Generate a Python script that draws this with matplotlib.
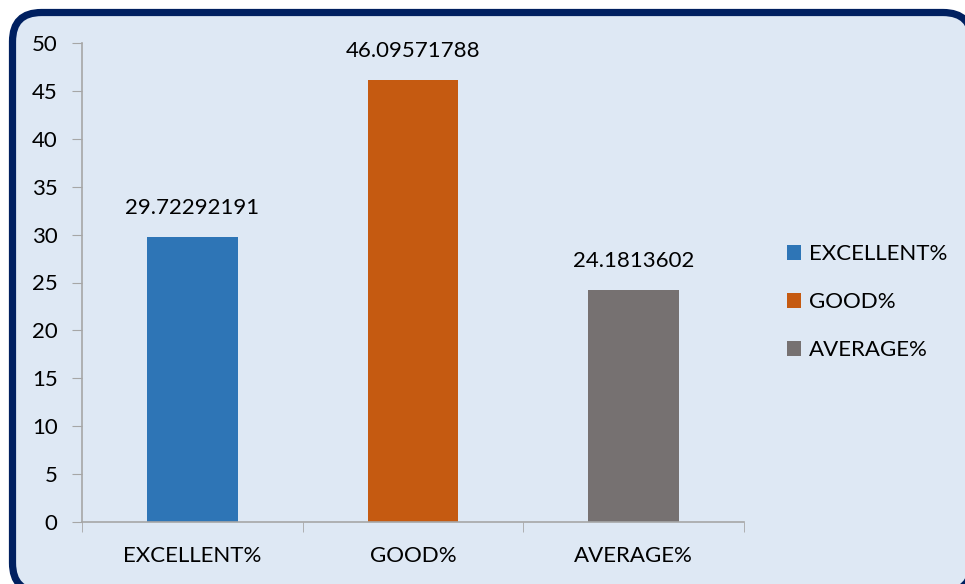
import matplotlib.pyplot as plt
from matplotlib.patches import FancyBboxPatch, Patch

categories = ['EXCELLENT%', 'GOOD%', 'AVERAGE%']
values = [29.72292191, 46.09571788, 24.1813602]
labels = ['29.72292191', '46.09571788', '24.1813602']
colors = ['#2E75B6', '#C55A11', '#767171']

plt.rcParams['font.family'] = ['Lato', 'DejaVu Sans']

W, H = 965, 584
fig = plt.figure(figsize=(W / 100, H / 100), dpi=100, facecolor='white')

# rounded frame, running past the right and bottom edges
frame = FancyBboxPatch((12.5 / W, -8 / H), (972 - 12.5) / W, (H - 12.5 + 8) / H,
                       boxstyle='round,pad=0,rounding_size=0.03',
                       transform=fig.transFigure, facecolor='#DEE8F4',
                       edgecolor='#002060', linewidth=5.2, mutation_aspect=W / H,
                       zorder=-10)
fig.patches.append(frame)

ax = fig.add_axes([82 / W, 1 - 522 / H, (744 - 82) / W, (522 - 43) / H])
ax.set_facecolor('none')

x = range(len(categories))
bars = ax.bar(x, values, width=0.41, color=colors, zorder=2)
for i, v in enumerate(values):
    ax.text(i, v + 2.0, labels[i], ha='center', va='bottom', fontsize=16, color='#000000')

ax.set_xlim(-0.5, 2.5)
ax.set_ylim(0, 50)
ax.set_yticks(range(0, 51, 5))
ax.set_xticks([0, 1, 2])
ax.set_xticklabels(categories)
ax.set_xticks([-0.5, 0.5, 1.5, 2.5], minor=True)

for s in ['top', 'right']:
    ax.spines[s].set_visible(False)
for s in ['left', 'bottom']:
    ax.spines[s].set_color('#A6A6A6')
    ax.spines[s].set_linewidth(1.2)

ax.tick_params(axis='y', length=7, color='#A6A6A6', labelsize=16, pad=10.5)
ax.tick_params(axis='x', which='major', length=0, labelsize=16, pad=17)
ax.tick_params(axis='x', which='minor', length=7, color='#A6A6A6')

handles = [Patch(facecolor=c) for c in colors]
fig.legend(handles, categories, loc='upper left', bbox_to_anchor=(778 / W, 1 - 235 / H),
           frameon=False, fontsize=16, handlelength=0.65, handleheight=0.65,
           handletextpad=0.35, labelspacing=1.27, borderaxespad=0)

fig.savefig('out.png', dpi=100)
